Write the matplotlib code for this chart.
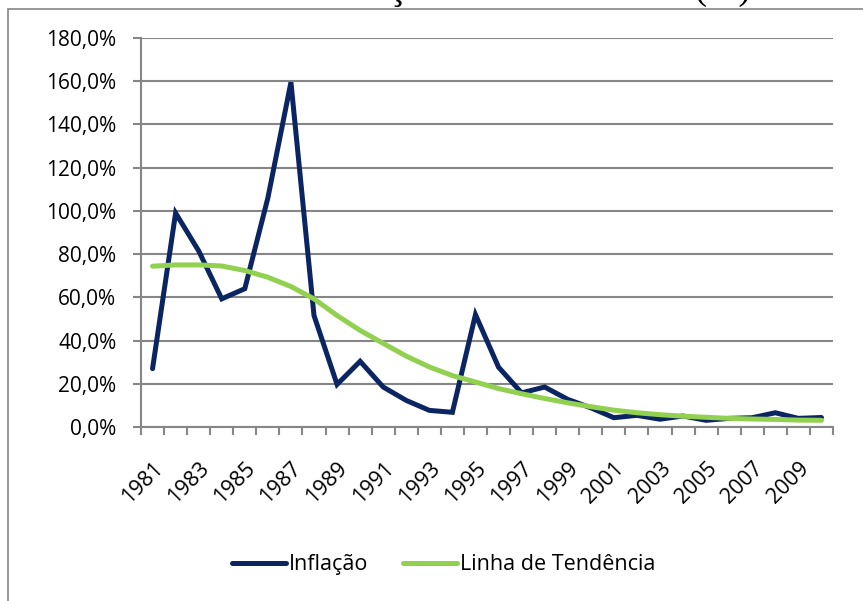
import numpy as np
import matplotlib.pyplot as plt
from matplotlib.patches import Rectangle

plt.rcParams['font.family'] = ['Open Sans', 'DejaVu Sans']

# data
years = list(range(1981, 2011))
inflacao = [27.0, 99.0, 81.5, 59.3, 64.0, 106.0, 159.5, 51.6, 19.7, 30.4,
            18.5, 12.3, 7.7, 6.8, 52.0, 27.7, 15.8, 18.5, 12.8, 8.9,
            4.3, 5.4, 3.6, 5.1, 3.1, 4.0, 4.3, 6.6, 4.0, 4.4]
tendencia = [74.4, 75.0, 75.0, 74.5, 72.4, 69.3, 65.0, 59.3, 51.6, 44.7,
             38.7, 32.8, 27.8, 23.8, 20.8, 17.8, 15.4, 13.2, 11.2, 9.4,
             7.8, 6.6, 5.7, 5.0, 4.5, 4.0, 3.7, 3.5, 3.2, 3.1]
yticks = np.arange(0, 181, 20)

grid_col = '#868686'

fig = plt.figure(figsize=(8.63, 6.01), dpi=100)
ax = fig.add_axes([0.1634, 0.2895, 0.8018, 0.6473])

x = np.arange(len(years))
ax.plot(x, inflacao, color='#0b2462', lw=3.6, solid_joinstyle='miter',
        solid_capstyle='round', label='Inflação', zorder=3)
ax.plot(x, tendencia, color='#92d050', lw=3.6, solid_capstyle='round',
        label='Linha de Tendência', zorder=4)

ax.set_xlim(-0.5, len(years) - 0.5)
ax.set_ylim(0, 180)
ax.set_yticks(yticks)
ax.set_yticklabels([f'{v:.1f}%'.replace('.', ',') for v in yticks])
ax.yaxis.grid(True, color=grid_col, lw=1.5)
ax.set_axisbelow(True)

# category ticks between years, labels every other year
ax.set_xticks(np.arange(-0.5, len(years), 1.0))
ax.set_xticklabels([])
ax.set_xticks(x[::2], minor=True)
ax.set_xticklabels([str(y) for y in years[::2]], minor=True, rotation=45,
                   ha='right', va='top', rotation_mode='anchor')
ax.tick_params(axis='x', which='minor', length=0, pad=22, labelsize=15.5)
ax.tick_params(axis='x', which='major', length=6, width=1.5, color=grid_col)
ax.tick_params(axis='y', length=5.8, width=1.5, color=grid_col, labelsize=15,
               pad=12)

for s in ['top', 'right']:
    ax.spines[s].set_visible(False)
for s in ['left', 'bottom']:
    ax.spines[s].set_color(grid_col)
    ax.spines[s].set_linewidth(1.5)

leg = fig.legend(loc='center', bbox_to_anchor=(0.514, 0.06), ncol=2,
                 frameon=False, fontsize=15.5, handlelength=2.5,
                 handletextpad=0.15, columnspacing=1.6)

# outer chart frame (cut off on the right and bottom)
fig.patches.append(Rectangle((8 / 863, -0.1), 1.2, 1 - 9 / 601 + 0.1,
                             transform=fig.transFigure, fill=False,
                             edgecolor=grid_col, lw=1.2))

# title, mostly cut off by the top edge
fig.text(0.515, 1 + 1 / 601, 'Gráfico 1 – Inflação Anual do Brasil (%)',
         ha='center', va='baseline', fontsize=27,
         family='Liberation Serif')

fig.savefig('out.png', dpi=100)
